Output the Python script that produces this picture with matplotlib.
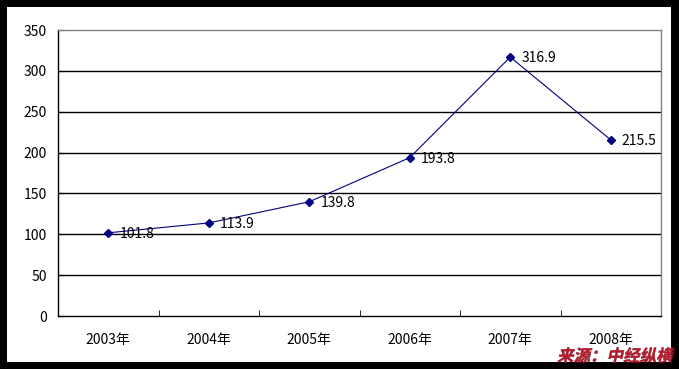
import matplotlib
matplotlib.use("Agg")
import matplotlib.pyplot as plt
from matplotlib.patches import Rectangle, PathPatch
from matplotlib.textpath import TextPath
from matplotlib.font_manager import FontProperties
from matplotlib.transforms import Affine2D
import numpy as np

plt.rcParams['font.family'] = ['Noto Sans CJK SC', 'DejaVu Sans']

years = ['2003年', '2004年', '2005年', '2006年', '2007年', '2008年']
values = [101.8, 113.9, 139.8, 193.8, 316.9, 215.5]
labels = ['101.8', '113.9', '139.8', '193.8', '316.9', '215.5']
source = '来源：中经纵横'

W, H = 679, 369
fig = plt.figure(figsize=(W / 100, H / 100), dpi=100, facecolor='black')

# white inner panel
fig.patches.append(Rectangle((7 / W, 1 - 362 / H), (671 - 7) / W, (362 - 7) / H,
                             transform=fig.transFigure, facecolor='white',
                             edgecolor='none', zorder=-10))

ax = fig.add_axes([58 / W, 1 - 316 / H, (661 - 58) / W, (316 - 30) / H])
ax.set_facecolor('white')

x = np.arange(len(years))
ax.set_xlim(-0.5, len(years) - 0.5)
ax.set_ylim(0, 350)

for v in range(50, 350, 50):
    ax.axhline(v, color='black', lw=1, zorder=1)

ax.plot(x, values, color='#000080', lw=0.8, marker='D', markersize=4.5,
        markerfacecolor='#000080', markeredgecolor='#000080', zorder=3)

for xi, v, t in zip(x, values, labels):
    ax.annotate(t, (xi, v), xytext=(8, -1), textcoords='offset points',
                ha='left', va='center', fontsize=10, color='black', zorder=4)

ax.set_yticks(range(0, 351, 50))
ax.set_xticks(x)
ax.set_xticklabels(years)
ax.set_xticks(np.arange(0.5, len(years) - 1, 1), minor=True)
ax.tick_params(axis='x', which='major', length=0, pad=12, labelsize=10)
ax.tick_params(axis='x', which='minor', direction='in', length=4, color='black')
ax.tick_params(axis='y', direction='in', length=4, pad=8, labelsize=10)

ax.spines['left'].set_color('black')
ax.spines['bottom'].set_color('black')
ax.spines['top'].set_color('#808080')
ax.spines['right'].set_color('#808080')
for s in ax.spines.values():
    s.set_linewidth(1)

# source note: bold red text, slanted by a skew since the font has no italic
fp = FontProperties(family='Noto Sans CJK SC', weight='bold')
tp = TextPath((0, 0), source, size=16.5, prop=fp)
bb = tp.get_extents()
tr = Affine2D().translate(-bb.x1, -bb.y0).skew_deg(12, 0).translate(672, H - 363)
fig.patches.append(PathPatch(tr.transform_path(tp), transform=None,
                             facecolor='#c0182a', edgecolor='#7a0a18', lw=0.3,
                             zorder=5))

fig.savefig('out.png', dpi=100, facecolor='black')
